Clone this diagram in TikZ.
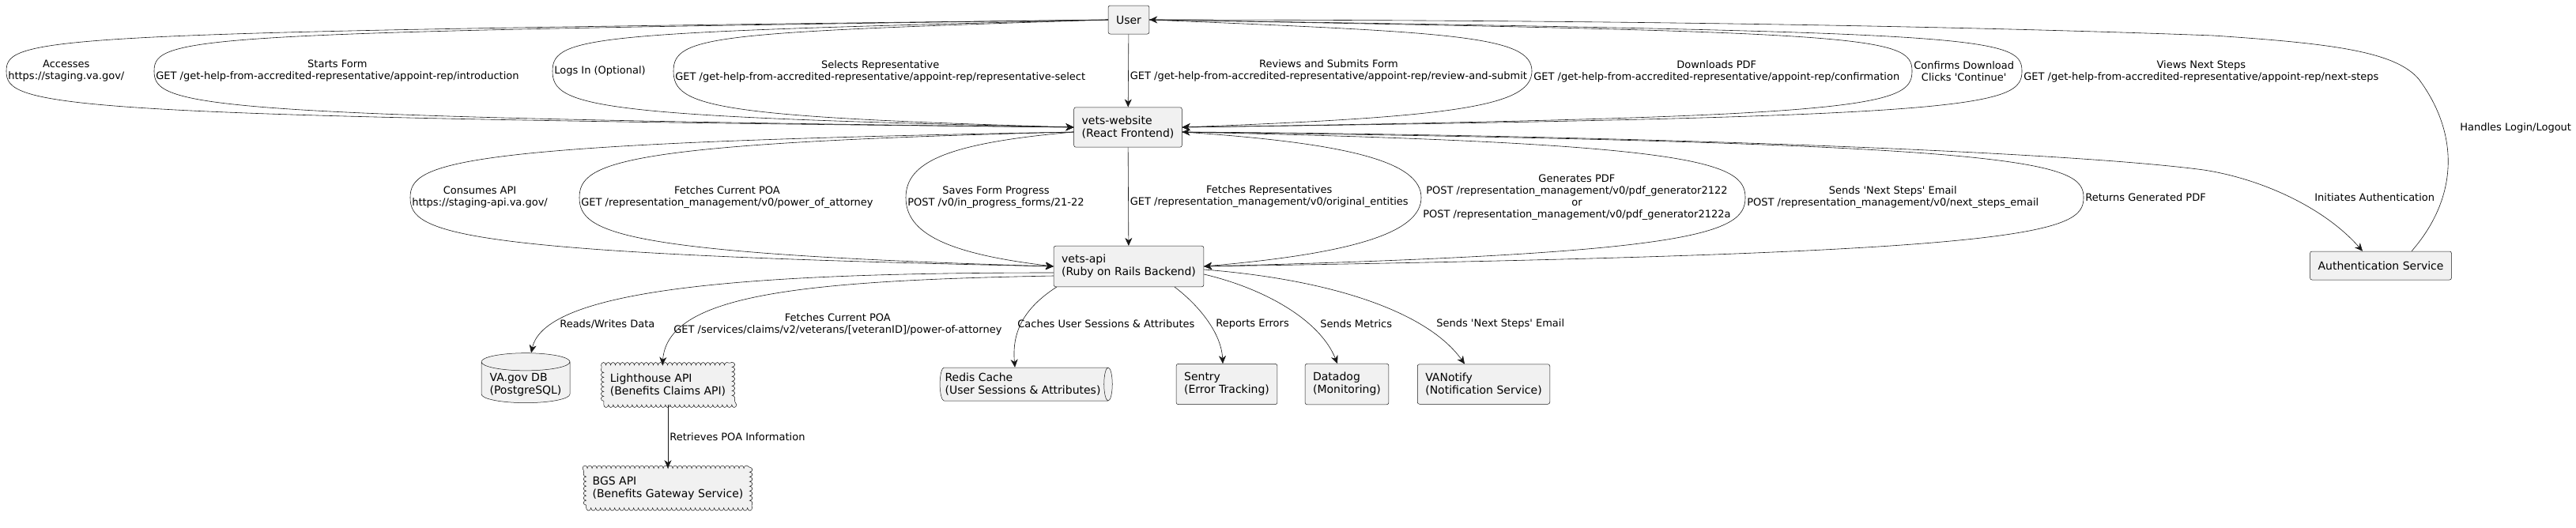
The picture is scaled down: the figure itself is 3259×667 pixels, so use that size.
\documentclass[tikz,border=0pt]{standalone}
\usepackage{fontspec}
\setmainfont{DejaVu Sans}
\usetikzlibrary{arrows.meta,shapes.geometric,decorations.pathmorphing,positioning}
\definecolor{boxfill}{HTML}{F1F1F1}
\definecolor{ink}{HTML}{181818}
\newcommand{\sq}{\textquotesingle}
\tikzset{
  comp/.style={draw=ink,fill=boxfill,line width=0.5pt,rounded corners=2.5pt,align=left,
    inner xsep=10pt,inner ysep=11pt,minimum height=36pt,font=\fontsize{14}{16}\selectfont},
  dbase/.style={cylinder,shape border rotate=90,shape aspect=0.2,draw=ink,fill=boxfill,line width=0.5pt,
    align=left,inner xsep=10pt,minimum width=112pt,minimum height=61pt,font=\fontsize{14}{16}\selectfont},
  queue/.style={cylinder,shape aspect=0.3,draw=ink,fill=boxfill,line width=0.5pt,
    align=left,inner xsep=4pt,minimum width=42pt,minimum height=214pt,font=\fontsize{14}{16}\selectfont},
  cloudbox/.style={draw=ink,fill=boxfill,line width=0.5pt,align=left,inner xsep=8pt,minimum height=50pt,
    decorate,decoration={bumps,segment length=12pt,amplitude=3.5pt,mirror},font=\fontsize{14}{16}\selectfont},
  lbl/.style={font=\fontsize{13}{15}\selectfont,align=center,inner sep=2pt},
  flow/.style={-{Stealth[length=10pt,width=9pt,inset=3pt]},draw=ink,line width=0.6pt}
}

\begin{document}
\begin{tikzpicture}[x=1pt,y=-1pt]
  \useasboundingbox (0,0) rectangle (3259,667);
  % nodes
  \node[comp] (user) at (1428,25) {User};
  \node[comp] (web) at (1427,161) {vets-website\\(React Frontend)};
  \node[comp] (api) at (1428,337) {vets-api\\(Ruby on Rails Backend)};
  \node[comp] (auth) at (3012,336) {Authentication Service};
  \node[dbase] (db) at (665,487) {VA.gov DB\\(PostgreSQL)};
  \node[cloudbox] (lh) at (845,487) {Lighthouse API\\(Benefits Claims API)};
  \node[cloudbox,below=80pt of lh] (bgs) {BGS API\\(Benefits Gateway Service)};
  \node[queue] (redis) at (1294,486) {Redis Cache\\(User Sessions \& Attributes)};
  \node[comp] (sentry) at (1552,486) {Sentry\\(Error Tracking)};
  \node[comp] (datadog) at (1704,486) {Datadog\\(Monitoring)};
  \node[comp] (vanotify) at (1877,486) {VANotify\\(Notification Service)};

  % user to vets-website
  \draw[flow] (user.west) .. controls (60,41) and (8,45) .. (8,90)
    node[lbl,anchor=west] {Accesses\\https://staging.va.gov/}
    .. controls (8,135) and (60,148) .. (web.west);
  \draw[flow] (user.west) .. controls (247,41) and (195,45) .. (195,90)
    node[lbl,anchor=west] {Starts Form\\GET /get-help-from-accredited-representative/appoint-rep/introduction}
    .. controls (195,135) and (247,148) .. (web.west);
  \draw[flow] (user.west) .. controls (751,41) and (699,45) .. (699,90)
    node[lbl,anchor=west] {Logs In (Optional)}
    .. controls (699,135) and (751,148) .. (web.west);
  \draw[flow] (user.west) .. controls (904,41) and (852,45) .. (852,90)
    node[lbl,anchor=west] {Selects Representative\\GET /get-help-from-accredited-representative/appoint-rep/representative-select}
    .. controls (852,135) and (904,148) .. (web.west);
  \draw[flow] (user) -- node[lbl,anchor=west] {Reviews and Submits Form\\GET /get-help-from-accredited-representative/appoint-rep/review-and-submit} (web);
  \draw[flow] (user.east) .. controls (1838,41) and (1938,45) .. (1938,90)
    node[lbl,anchor=west] {Downloads PDF\\GET /get-help-from-accredited-representative/appoint-rep/confirmation}
    .. controls (1938,135) and (1838,148) .. (web.east);
  \draw[flow] (user.east) .. controls (2365,41) and (2419,45) .. (2419,90)
    node[lbl,anchor=west] {Confirms Download\\Clicks \sq Continue\sq}
    .. controls (2419,135) and (2365,148) .. (web.east);
  \draw[flow] (user.east) .. controls (2504,41) and (2558,45) .. (2558,90)
    node[lbl,anchor=west] {Views Next Steps\\GET /get-help-from-accredited-representative/appoint-rep/next-steps}
    .. controls (2558,135) and (2504,148) .. (web.east);

  % vets-website to vets-api
  \draw[flow] ([yshift=-6pt]web.west) .. controls (571,181) and (519,205) .. (519,250)
    node[lbl,anchor=west] {Consumes API\\https://staging-api.va.gov/}
    .. controls (519,295) and (571,321) .. (api.west);
  \draw[flow] ([yshift=-6pt]web.west) .. controls (785,181) and (733,205) .. (733,250)
    node[lbl,anchor=west] {Fetches Current POA\\GET /representation\_management/v0/power\_of\_attorney}
    .. controls (733,295) and (785,321) .. (api.west);
  \draw[flow] ([yshift=-6pt]web.west) .. controls (1198,181) and (1146,205) .. (1146,250)
    node[lbl,anchor=west] {Saves Form Progress\\POST /v0/in\_progress\_forms/21-22}
    .. controls (1146,295) and (1198,321) .. (api.west);
  \draw[flow] (web) -- node[lbl,anchor=west] {Fetches Representatives\\GET /representation\_management/v0/original\_entities} (api);
  \draw[flow] ([yshift=-6pt]web.east) .. controls (1708,181) and (1798,205) .. (1798,250)
    node[lbl,anchor=west] {Generates PDF\\POST /representation\_management/v0/pdf\_generator2122\\or\\POST /representation\_management/v0/pdf\_generator2122a}
    .. controls (1798,295) and (1708,321) .. (api.east);
  \draw[flow] ([yshift=-6pt]web.east) .. controls (2148,181) and (2208,205) .. (2208,250)
    node[lbl,anchor=west] {Sends \sq Next Steps\sq{} Email\\POST /representation\_management/v0/next\_steps\_email}
    .. controls (2208,295) and (2148,321) .. (api.east);
  \draw[flow] (api.east) .. controls (2576,321) and (2636,295) .. (2636,250)
    node[lbl,anchor=west] {Returns Generated PDF}
    .. controls (2636,205) and (2576,181) .. ([yshift=-6pt]web.east);

  % authentication
  \draw[flow] ([yshift=-6pt]web.east) .. controls (2000,170) and (2600,190) .. (2788,215)
    .. controls (2860,226) and (2940,262) .. ([xshift=-23pt]auth.north)
    node[lbl,anchor=west] at (2926,250) {Initiates Authentication};
  \draw[flow] ([xshift=39pt]auth.north) .. controls (3110,250) and (3112,170) .. (3060,100)
    .. controls (3030,65) and (2950,55) .. (2800,45) .. controls (2400,30) and (1900,25) .. (user.east)
    node[lbl,anchor=west] at (3110,162) {Handles Login/Logout};

  % vets-api to services
  \draw[flow] ([yshift=-8pt]api.west) .. controls (950,345) and (690,365) .. ([xshift=7pt]db.north)
    node[lbl,anchor=west] at (706,410) {Reads/Writes Data};
  \draw[flow] ([yshift=-12pt]api.west) .. controls (1000,355) and (845,375) .. ([xshift=-7pt]lh.north)
    node[lbl,anchor=west] at (850,410) {Fetches Current POA\\GET /services/claims/v2/veterans/[veteranID]/power-of-attorney};
  \draw[flow] ([xshift=4pt]api.south west) .. controls (1295,390) and (1280,420) .. ([xshift=-10pt]redis.north)
    node[lbl,anchor=west] at (1285,410) {Caches User Sessions \& Attributes};
  \draw[flow] ([xshift=58pt]api.south) .. controls (1515,385) and (1545,420) .. ([xshift=-5pt]sentry.north)
    node[lbl,anchor=west] at (1536,410) {Reports Errors};
  \draw[flow] ([yshift=-10pt]api.east) .. controls (1600,365) and (1670,405) .. ([xshift=-12pt]datadog.north)
    node[lbl,anchor=west] at (1668,410) {Sends Metrics};
  \draw[flow] ([yshift=-4pt]api.east) .. controls (1700,355) and (1810,400) .. ([xshift=-24pt]vanotify.north)
    node[lbl,anchor=west] at (1815,410) {Sends \sq Next Steps\sq{} Email};
  \draw[flow] (lh) -- node[lbl,anchor=west] {Retrieves POA Information} (bgs);
\end{tikzpicture}
\end{document}
